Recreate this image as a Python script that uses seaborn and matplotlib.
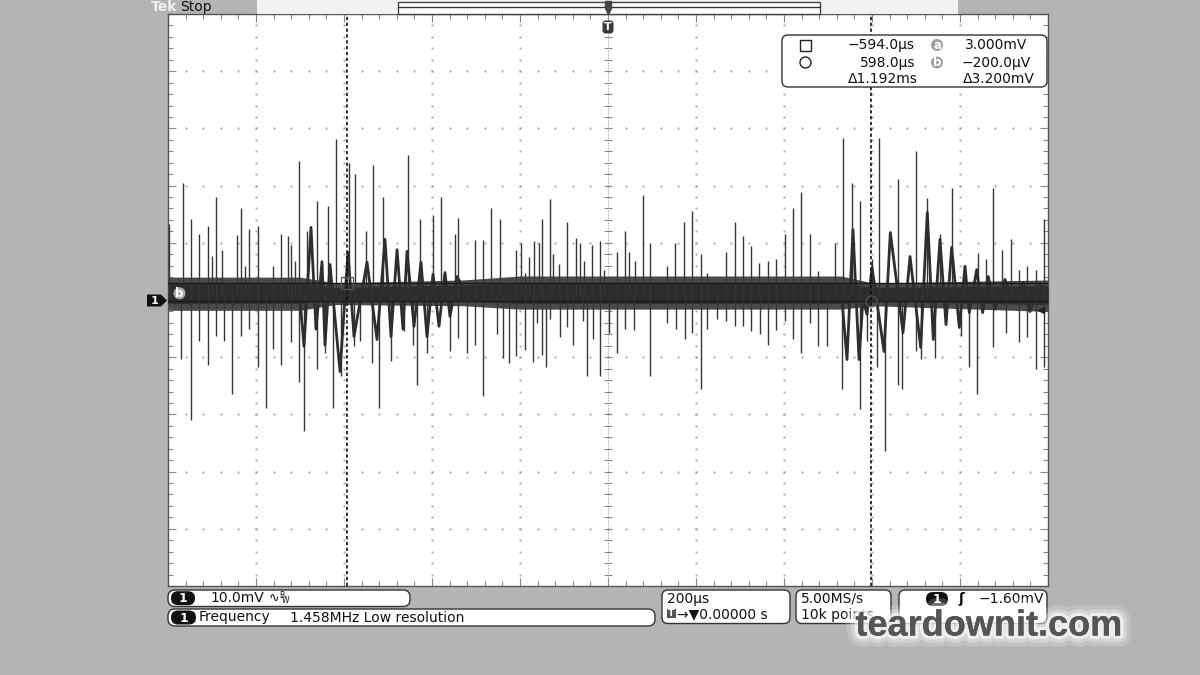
import numpy as np
import matplotlib
matplotlib.use("Agg")
import matplotlib.pyplot as plt
import seaborn as sns
from matplotlib.patches import FancyBboxPatch, Rectangle, Polygon, Circle
import matplotlib.patheffects as pe

# ---------------- data (time in microseconds, voltage in mV) ----------------
time_per_div = 200.0
volt_per_div = 10.0

up_t = [-998, -967, -948, -929, -910, -901, -891, -878, -844, -834, -825, -815, -796, -761, -743, -728, -721, -711, -703, -683, -662, -636, -618,
        -588, -576, -549, -533, -511, -455, -427, -398, -380, -348, -342, -302, -283, -266, -246, -209, -198,
        -188, -180, -169, -157, -150, -132, -126, -112, -93, -73, -64, -55, -36, -18, -9, 21, 39, 48, 61, 79, 96, 135, 153, 172, 192,
        211, 224, 268, 288, 306, 324, 344, 363, 382, 402, 420, 439, 458, 477, 516, 533, 554, 573, 601,
        616, 658, 699, 724, 755, 781, 809, 840, 858, 876, 896, 915, 933, 952, 972, 991]
up_v = [13.2, 20.4, 14.1, 11.6, 12.9, 7.7, 18.0, 8.8, 11.3, 16.0, 5.9, 12.5, 12.9, 5.9, 11.5, 11.2, 9.7, 6.8, 24.3, 12.0, 17.3, 16.4, 28.1,
        24.0, 22.0, 12.0, 23.6, 18.0, 25.3, 14.1, 14.8, 18.0, 11.6, 14.4, 10.5, 10.5, 16.0, 14.1, 8.8, 10.0,
        4.8, 7.6, 10.4, 10.0, 14.1, 17.6, 8.0, 6.3, 13.6, 10.8, 10.0, 6.8, 9.6, 10.4, 5.2, 8.4, 12.0, 8.4, 6.8, 18.3, 10.0, 5.9, 10.0, 13.6, 15.6,
        8.0, 4.8, 8.4, 13.6, 11.2, 9.5, 6.4, 6.8, 7.2, 11.6, 16.0, 18.8, 11.6, 5.1, 10.0, 28.4, 20.4, 17.3, 7.1,
        28.4, 21.2, 26.0, 17.9, 11.5, 19.6, 5.9, 8.3, 7.2, 19.6, 8.8, 10.7, 5.2, 5.9, 5.3, 14.1]

dn_t = [-970, -948, -929, -910, -891, -872, -855, -834, -815, -796, -777, -761, -743, -721, -703, -690, -662, -643, -626, -607,
        -578, -563, -536, -521, -493, -464, -444, -435, -411, -360, -342, -321, -302, -283, -252, -239, -226, -208,
        -188, -170, -161, -150, -142, -132, -110, -94, -79, -56, -48, -35, -18, 2, 21, 39, 60, 96, 134, 154, 174, 192,
        211, 226, 248, 268, 288, 306, 326, 346, 364, 382, 402, 421, 439, 459, 477, 497, 532, 572, 589,
        611, 630, 658, 668, 699, 711, 743, 802, 820, 838, 876, 905, 934, 953, 972, 991]
dn_v = [-10.4, -20.9, -7.2, -11.3, -6.3, -7.2, -16.5, -6.3, -5.1, -11.8, -18.8, -8.6, -11.3, -7.4, -14.4, -22.9, -12.1, -9.2, -18.8, -13.3,
        -8.1, -7.2, -11.0, -18.8, -10.7, -5.4, -7.8, -14.8, -9.2, -8.9, -6.6, -9.2, -7.8, -16.8, -6.0, -10.1, -11.0, -9.8,
        -8.8, -10.9, -4.0, -9.6, -11.7, -3.3, -6.4, -4.8, -7.8, -3.7, -13.3, -6.9, -13.3, -5.7, -9.2, -5.0, -5.3, -13.3, -4.1, -5.0, -6.9, -5.7,
        -15.6, -5.1, -3.4, -3.7, -4.6, -4.6, -5.4, -6.0, -7.8, -5.3, -3.7, -6.9, -9.2, -4.0, -8.1, -8.1, -15.6, -19.1, -7.2,
        -11.7, -26.4, -14.8, -15.6, -8.9, -10.4, -10.1, -6.3, -11.7, -16.5, -8.3, -5.7, -7.4, -6.4, -12.1, -11.7]

burst1_t = [-700.0, -690.9, -675.0, -663.6, -650.0, -643.2, -631.8, -609.1, -590.9, -577.3, -547.7, -525.0, -506.8,
            -493.2, -479.5, -465.9, -456.8, -440.9, -425.0, -411.4, -397.7, -384.1, -370.5, -359.1, -343.2, -325.0]
burst1_v = [0.1, -8.1, 12.7, -5.1, 6.7, -7.9, 6.2, -12.5, 8.3, -6.4, 6.6, -6.9, 10.6,
            -6.4, 8.8, -5.1, 8.5, -4.6, 6.6, -6.4, 4.5, -4.6, 4.8, -2.9, 4.1, 1.5]

burst2_t = [527.3, 531.8, 543.2, 556.8, 570.5, 579.5, 588.6, 600.0, 627.3, 641.6, 670.5, 686.4, 710.7, 725.7, 739.3,
            754.5, 768.2, 781.1, 798.4, 811.4, 821.1, 837.9, 851.5, 864.3, 879.5, 902.3, 920.5, 943.2, 959.1, 981.8, 1000.0]
burst2_v = [1.5, 0.1, -10.4, 12.3, -10.4, 0.1, -2.5, 5.7, -9.0, 11.8, -5.7, 7.6, -8.3, 15.3, -6.9,
            10.6, -4.3, 9.2, -4.8, 5.9, -2.2, 5.3, -2.2, 4.1, -1.6, 3.6, -0.4, 3.1, -2.0, 2.7, 0.1]

band_t = [-1000, -700, -620, -330, -200, 530, 600, 1000]
band_hi = [4.0, 4.0, 3.0, 3.5, 4.2, 4.2, 3.0, 3.5]
band_lo = [-1.8, -1.8, -0.8, -1.0, -1.6, -1.6, -1.0, -2.0]
core_hi = [3.0, 3.0, 2.2, 2.6, 3.1, 3.1, 2.2, 2.5]
core_lo = [-0.6, -0.6, 0.0, -0.2, -0.6, -0.6, -0.2, -0.8]

cursor_t = [-594.0, 598.0]
cursor_v = [3.000, -0.200]

readout_rows = [("\u2212594.0\u00b5s", "a", "3.000mV"),
                ("598.0\u00b5s", "b", "\u2212200.0\u00b5V"),
                ("\u03941.192ms", "", "\u03943.200mV")]
ch_scale = "10.0mV"
meas_name = "Frequency"
meas_value = "1.458MHz Low resolution"
timebase = "200\u00b5s"
trig_pos = "\u2192\u25bc0.00000 s"
sample_rate = "5.00MS/s"
record_len = "10k points"
trig_level = "\u22121.60mV"
watermark = "teardownit.com"

# ---------------- figure ----------------
sns.set_style("white")
plt.rcParams['font.family'] = ['DejaVu Sans']
W, H = 1200, 675
fig = plt.figure(figsize=(12, 6.75), dpi=100, facecolor='#b4b4b4')

L, R, T, B = 168, 1048, 14, 586
ax = fig.add_axes([L / W, 1 - B / H, (R - L) / W, (B - T) / H], zorder=2)
ax.set_facecolor('white')
ax.set_xlim(-5 * time_per_div, 5 * time_per_div)
ax.set_ylim(-5 * volt_per_div, 5 * volt_per_div)
for s in ax.spines.values():
    s.set_color('#555555')
    s.set_linewidth(1.0)
ax.set_xticks(np.arange(-1000, 1001, 200))
ax.set_xticks(np.arange(-1000, 1001, 40), minor=True)
ax.set_yticks(np.arange(-50, 51, 10))
ax.set_yticks(np.arange(-50, 51, 2), minor=True)
ax.tick_params(which='both', direction='in', top=True, right=True, bottom=True, left=True,
               labelbottom=False, labelleft=False, color='#888888')
ax.tick_params(which='major', length=6, width=0.8)
ax.tick_params(which='minor', length=3.5, width=0.8)

# grid dots
gc = '#a6a6a6'
for gx in np.arange(-800, 801, 200):
    if gx == 0:
        continue
    yy = np.arange(-50, 50.1, 2)
    ax.plot(np.full_like(yy, gx), yy, ls='none', marker='s', ms=1.4, color=gc, mew=0, zorder=1)
for gy in np.arange(-40, 41, 10):
    if gy == 0:
        continue
    xx = np.arange(-1000, 1000.1, 40)
    ax.plot(xx, np.full_like(xx, gy), ls='none', marker='s', ms=1.4, color=gc, mew=0, zorder=1)
# center axes with ticks
yy = np.arange(-50, 50.1, 2)
ax.plot(np.zeros_like(yy), yy, ls='none', marker='_', ms=6, mew=0.8, color='#888888', zorder=1)
ax.axvline(0, color='#999999', lw=0.6, dashes=(1.5, 1.5), zorder=1)
xx = np.arange(-1000, 1000.1, 40)
ax.plot(xx, np.zeros_like(xx), ls='none', marker='|', ms=6, mew=0.8, color='#888888', zorder=1)

# signal
tr = '#363636'
ax.fill_between(band_t, band_lo, band_hi, color='#4a4a4a', lw=0, zorder=3)
ax.fill_between(band_t, core_lo, core_hi, color='#2c2c2c', lw=0, zorder=3)
ax.vlines(up_t, 1.0, up_v, color=tr, lw=1.0, zorder=4)
ax.vlines(dn_t, 1.0, dn_v, color=tr, lw=1.0, zorder=4)
for bt, bv in [(burst1_t, burst1_v), (burst2_t, burst2_v)]:
    sns.lineplot(x=bt, y=bv, ax=ax, color='#2e2e2e', lw=2.0, estimator=None, sort=False, zorder=4)
ax.plot([985], [-1.7], marker='<', ms=5, color='#222222', zorder=5)

# cursors
for ct in cursor_t:
    ax.axvline(ct, color='#111111', lw=1.2, dashes=(2, 1.5), zorder=6)
for cv in cursor_v:
    ax.axhline(cv, color='#1a1a1a', lw=1.0, zorder=6)
ax.plot([cursor_t[0]], [cursor_v[0]], marker='s', ms=8, mfc='none', mec='#555555', mew=0.9, zorder=7)
ax.plot([cursor_t[1]], [cursor_v[1]], marker='o', ms=8, mfc='none', mec='#555555', mew=0.9, zorder=7)

# ---------------- overlay (pixel coordinates) ----------------
ov = fig.add_axes([0, 0, 1, 1], zorder=5)
ov.set_xlim(0, W)
ov.set_ylim(H, 0)
ov.axis('off')
ov.patch.set_alpha(0)


def rbox(x0, y0, x1, y1, r=5, fc='white', ec='#333333', lw=1.0):
    ov.add_patch(FancyBboxPatch((x0, y0), x1 - x0, y1 - y0,
                                boxstyle=f"round,pad=0,rounding_size={r}", fc=fc, ec=ec, lw=lw))


def badge(x0, x1, yc, h=14, label="1"):
    ov.add_patch(FancyBboxPatch((x0, yc - h / 2), x1 - x0, h,
                                boxstyle=f"round,pad=0,rounding_size={h / 2}", fc='#111111', ec='none'))
    ov.text((x0 + x1) / 2, yc + 0.5, label, color='white', fontsize=9, fontweight='bold', ha='center', va='center')


# top bar
ov.text(151, 7, "Tek", color='#f0f0f0', fontsize=10, fontweight='bold', ha='left', va='center')
ov.text(180, 7, "Stop", color='#111111', fontsize=10, ha='left', va='center')
ov.add_patch(Rectangle((257, 0), 958 - 257, 13.5, fc='#f2f2f2', ec='none'))
ov.add_patch(Rectangle((398, 1.5), 820 - 398, 12.5, fc='white', ec='#444444', lw=1.0))
ov.plot([398, 820], [7, 7], color='#333333', lw=1.0)
ov.plot([608], [4], marker='s', ms=5, color='#444444')
ov.plot([608], [11], marker='v', ms=5, color='#444444')
ov.add_patch(FancyBboxPatch((602.5, 20.5), 11, 13, boxstyle="round,pad=0,rounding_size=3", fc='#3a3a3a', ec='none'))
ov.text(608, 27.5, "T", color='white', fontsize=8, fontweight='bold', ha='center', va='center')

# ground marker "1" and cursor label b
ov.add_patch(Polygon([[147, 294.5], [161, 294.5], [167, 300.5], [161, 306.5], [147, 306.5]], closed=True,
                     fc='#111111', ec='none'))
ov.text(154.5, 301, "1", color='white', fontsize=8, fontweight='bold', ha='center', va='center')
ov.add_patch(Circle((179.5, 293.3), 6, fc='#a8a8a8', ec='none'))
ov.text(179.5, 293.8, "b", color='white', fontsize=8.5, fontweight='bold', ha='center', va='center')

# cursor readout box
rbox(782, 35, 1047, 87, r=6)
ov.add_patch(Rectangle((799.5, 39.5), 11.5, 11.5, fc='white', ec='#222222', lw=1.0))
ov.add_patch(Circle((805.5, 62.5), 5.5, fc='white', ec='#222222', lw=1.0))
row_y = [45, 62.5, 79]
right1 = [915, 915, 918]
right2 = [1027, 1031, 1035]
for (t1, lab, t2), y, r1, r2 in zip(readout_rows, row_y, right1, right2):
    ov.text(r1, y, t1, fontsize=10, ha='right', va='center', color='#111111')
    ov.text(r2, y, t2, fontsize=10, ha='right', va='center', color='#111111')
    if lab:
        ov.add_patch(Circle((937, y), 6, fc='#a0a0a0', ec='none'))
        ov.text(937, y + 0.5, lab, fontsize=8.5, fontweight='bold', color='white', ha='center', va='center')

# bottom status boxes
rbox(168, 590, 410, 606.5, r=7)
badge(171, 195, 598.2)
ov.text(210, 598.3, ch_scale, fontsize=10, ha='left', va='center', color='#111111')
ov.text(269, 598.3, "\u223f", fontsize=9, ha='left', va='center', color='#111111')
ov.text(279, 595.5, "B", fontsize=5.5, ha='left', va='center', color='#111111')
ov.text(282, 600.5, "W", fontsize=5.5, ha='left', va='center', color='#111111')

rbox(168, 609, 655, 626, r=7)
badge(171, 196, 617.5)
ov.text(199, 617.5, meas_name, fontsize=10, ha='left', va='center', color='#111111')
ov.text(290, 617.5, meas_value, fontsize=10, ha='left', va='center', color='#111111')

rbox(662, 590, 790, 623.5, r=6)
ov.text(667, 599, timebase, fontsize=10, ha='left', va='center', color='#111111')
ov.add_patch(Rectangle((666.5, 608.5), 9.5, 9.5, fc='#555555', ec='none'))
ov.text(671.2, 613.5, "T", fontsize=6.5, fontweight='bold', ha='center', va='center', color='white')
ov.text(677, 614.5, trig_pos, fontsize=10, ha='left', va='center', color='#111111')

rbox(796, 590, 891, 623.5, r=6)
ov.text(801, 599, sample_rate, fontsize=10, ha='left', va='center', color='#111111')
ov.text(801, 614.5, record_len, fontsize=10, ha='left', va='center', color='#111111')

rbox(899, 590, 1047, 623.5, r=6)
badge(926, 948, 599)
ov.text(958, 599, "\u0283", fontsize=10, fontweight='bold', ha='left', va='center', color='#111111')
ov.text(1044, 599, trig_level, fontsize=10, ha='right', va='center', color='#111111')

# watermark
wm = ov.text(989, 626, watermark, fontsize=26, fontweight='bold', family=['Liberation Sans', 'DejaVu Sans'],
             ha='center', va='center', color='#555555')
wm.set_path_effects([pe.withStroke(linewidth=16, foreground=(1, 1, 1, 0.18)),
                     pe.withStroke(linewidth=10, foreground=(1, 1, 1, 0.3)),
                     pe.withStroke(linewidth=5, foreground=(1, 1, 1, 0.6)),
                     pe.Normal()])

fig.savefig("out.png", dpi=100, facecolor=fig.get_facecolor())
